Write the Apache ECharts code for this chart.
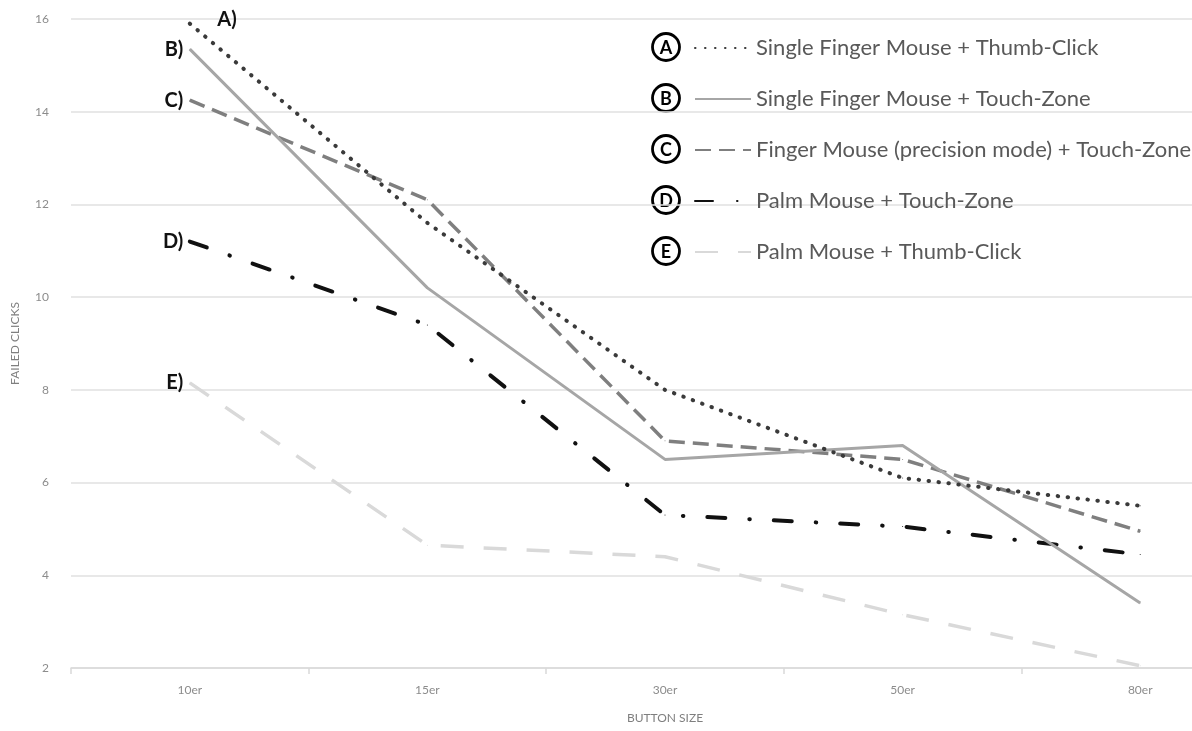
<!DOCTYPE html>
<html>
<head>
<meta charset="utf-8">
<script src="https://cdn.jsdelivr.net/npm/echarts@6/dist/echarts.min.js"></script>
<style>
  html, body { margin: 0; padding: 0; background: #fff; overflow: hidden; }
  /* chart runs past the right edge of the window, like the cropped original */
  #chart { width: 1259px; height: 731px; }
</style>
</head>
<body>
<div id="chart"></div>
<script>
// data
var categories = ['10er', '15er', '30er', '50er', '80er'];
var seriesNames = [
    'Single Finger Mouse + Thumb-Click',
    'Single Finger Mouse + Touch-Zone',
    'Finger Mouse (precision mode) + Touch-Zone',
    'Palm Mouse + Touch-Zone',
    'Palm Mouse + Thumb-Click'
];
var letters = ['A', 'B', 'C', 'D', 'E'];
var valuesA = [15.9, 11.6, 8.0, 6.1, 5.5];
var valuesB = [15.35, 10.2, 6.5, 6.8, 3.4];
var valuesC = [14.25, 12.1, 6.9, 6.5, 4.95];
var valuesD = [11.2, 9.4, 5.3, 5.05, 4.45];
var valuesE = [8.15, 4.65, 4.4, 3.15, 2.05];
var yTicks = [2, 4, 6, 8, 10, 12, 14, 16];

var FONT = 'Lato';

// line looks per series
var looks = [
    { color: '#3a3a3a', width: 4, type: [0.5, 9.5], cap: 'round' },
    { color: '#a6a6a6', width: 3, type: 'solid', cap: 'butt' },
    { color: '#7f7f7f', width: 3.5, type: [16, 8], cap: 'butt' },
    { color: '#111111', width: 4, type: [18, 24, 0.5, 24], cap: 'round' },
    { color: '#d9d9d9', width: 3.5, type: [23, 20], cap: 'butt' }
];
var allValues = [valuesA, valuesB, valuesC, valuesD, valuesE];

var myChart = echarts.init(document.getElementById('chart'), null, { renderer: 'canvas' });

var series = allValues.map(function (vals, i) {
    var look = looks[i];
    var data = vals.map(function (v, j) {
        if (j !== 0) return v;
        // "A)" label sits above-right, the rest on the left
        var lab = i === 0
            ? { show: true, position: 'right', offset: [22, -4] }
            : { show: true, position: 'left', distance: 6 };
        lab.formatter = letters[i] + ')';
        lab.color = '#111';
        lab.fontWeight = 'bold';
        lab.fontSize = 20;
        lab.fontFamily = FONT;
        return { value: v, label: lab };
    });
    return {
        name: seriesNames[i],
        type: 'line',
        data: data,
        symbol: 'circle',
        symbolSize: 1,
        showSymbol: true,
        z: 10 - i,
        lineStyle: { color: look.color, width: look.width, type: look.type, cap: look.cap },
        itemStyle: { color: look.color },
        emphasis: { disabled: true },
        animation: false
    };
});

// circled letters left of the legend
var circles = letters.map(function (l, i) {
    return {
        type: 'group',
        x: 666,
        y: 47 + i * 51,
        children: [
            { type: 'circle', shape: { cx: 0, cy: 0, r: 13.5 }, style: { fill: '#fff', stroke: '#000', lineWidth: 2.8 } },
            { type: 'text', x: 0, y: 1, style: { text: l, fill: '#000', font: 'bold 18px ' + FONT, align: 'center', verticalAlign: 'middle' } }
        ]
    };
});

var option = {
    backgroundColor: '#fff',
    animation: false,
    grid: { left: 71, right: 0, top: 19, bottom: 63 },
    legend: {
        orient: 'vertical',
        left: 689,
        top: 32,
        itemWidth: 56,
        itemHeight: 2,
        itemGap: 29,
        data: seriesNames,
        itemStyle: { opacity: 0 },
        textStyle: { color: '#595959', fontSize: 22, fontFamily: FONT },
        selectedMode: false
    },
    graphic: circles,
    xAxis: {
        type: 'category',
        data: categories,
        boundaryGap: true,
        name: 'BUTTON SIZE',
        nameLocation: 'middle',
        nameGap: 44,
        nameTextStyle: { color: '#7f7f7f', fontSize: 12, fontFamily: FONT },
        axisLine: { lineStyle: { color: '#d9d9d9', width: 1.5 } },
        axisTick: { show: true, length: 6, lineStyle: { color: '#d9d9d9', width: 1.5 } },
        axisLabel: { color: '#8c8c8c', fontSize: 12, fontFamily: FONT, margin: 16 }
    },
    yAxis: {
        type: 'value',
        min: yTicks[0],
        max: yTicks[yTicks.length - 1],
        interval: 2,
        name: 'FAILED CLICKS',
        nameLocation: 'middle',
        nameGap: 50,
        nameTextStyle: { color: '#7f7f7f', fontSize: 12, fontFamily: FONT },
        axisLine: { show: false },
        axisTick: { show: false },
        splitLine: { lineStyle: { color: '#e0e0e0', width: 1.5 } },
        axisLabel: { color: '#8c8c8c', fontSize: 12, fontFamily: FONT, margin: 22 }
    },
    series: series
};

myChart.setOption(option);
</script>
</body>
</html>
